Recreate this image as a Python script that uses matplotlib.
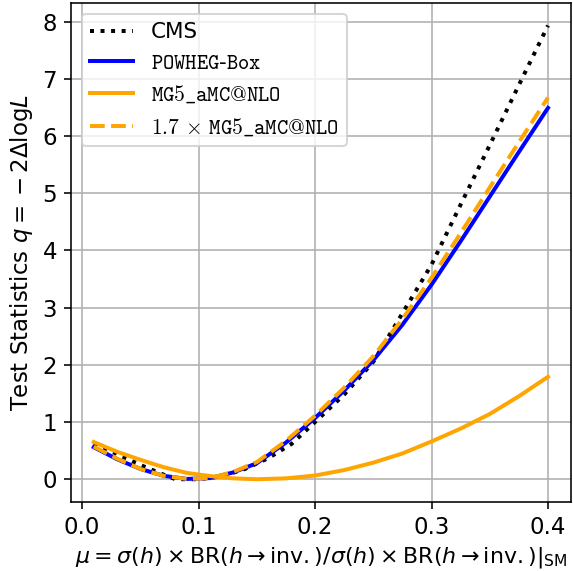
import matplotlib
matplotlib.use("Agg")
import matplotlib.pyplot as plt

# mu values and test statistics
mu_cms = [0.01, 0.03, 0.05, 0.07, 0.08, 0.10, 0.12, 0.14, 0.16, 0.18, 0.20,
          0.225, 0.25, 0.275, 0.30, 0.325, 0.35, 0.375, 0.40]
q_cms = [0.62, 0.44, 0.25, 0.08, 0.0, 0.0, 0.05, 0.18, 0.37, 0.62, 1.0,
         1.48, 2.05, 2.90, 3.75, 4.80, 5.84, 6.89, 7.93]

mu = [0.01, 0.03, 0.05, 0.07, 0.09, 0.11, 0.13, 0.15, 0.175, 0.20,
      0.225, 0.25, 0.275, 0.30, 0.325, 0.35, 0.375, 0.40]
q_powheg = [0.56, 0.35, 0.18, 0.06, 0.005, 0.02, 0.12, 0.28, 0.64, 1.07,
            1.55, 2.08, 2.70, 3.40, 4.16, 4.94, 5.72, 6.49]
q_mg5 = [0.65, 0.48, 0.34, 0.21, 0.11, 0.055, 0.015, 0.0, 0.015, 0.065,
         0.16, 0.29, 0.45, 0.66, 0.885, 1.14, 1.45, 1.79]
q_mg5_scaled = [0.57, 0.36, 0.18, 0.06, 0.005, 0.02, 0.13, 0.30, 0.67, 1.11,
                1.60, 2.15, 2.80, 3.52, 4.30, 5.10, 5.89, 6.67]

labels = ["CMS",
          r"$\mathtt{POWHEG}$-$\mathtt{Box}$",
          r"$\mathtt{MG5\_aMC@NLO}$",
          r"$1.7\,\times\,\mathtt{MG5\_aMC@NLO}$"]

plt.rcParams["font.size"] = 11.5

fig = plt.figure(figsize=(4.0, 571 / 143.25), dpi=143.25)
ax = fig.add_axes([0.124, 0.121, 0.872, 0.874])

ax.plot(mu_cms, q_cms, ":", color="black", lw=2, label=labels[0])
ax.plot(mu, q_powheg, "-", color="blue", lw=2, label=labels[1])
ax.plot(mu, q_mg5, "-", color="orange", lw=2, label=labels[2])
ax.plot(mu, q_mg5_scaled, "--", color="orange", lw=2, label=labels[3])

ax.set_xticks([0.0, 0.1, 0.2, 0.3, 0.4])
ax.set_yticks(range(0, 9))
ax.grid(True)

ax.set_xlabel(r"$\mu = \sigma(h) \times {\rm BR}(h \to {\rm inv.})/\sigma(h) \times {\rm BR}(h \to {\rm inv.})|_{\rm SM}$",
              fontsize=11.1, labelpad=3)
ax.set_ylabel(r"Test Statistics $q = {} - 2\Delta{\rm log}L$")

leg = ax.legend(loc="upper left", fontsize=10.8)
for t in leg.get_texts()[1:]:
    t.set_math_fontfamily("cm")

fig.savefig("out.png", dpi=143.25)
